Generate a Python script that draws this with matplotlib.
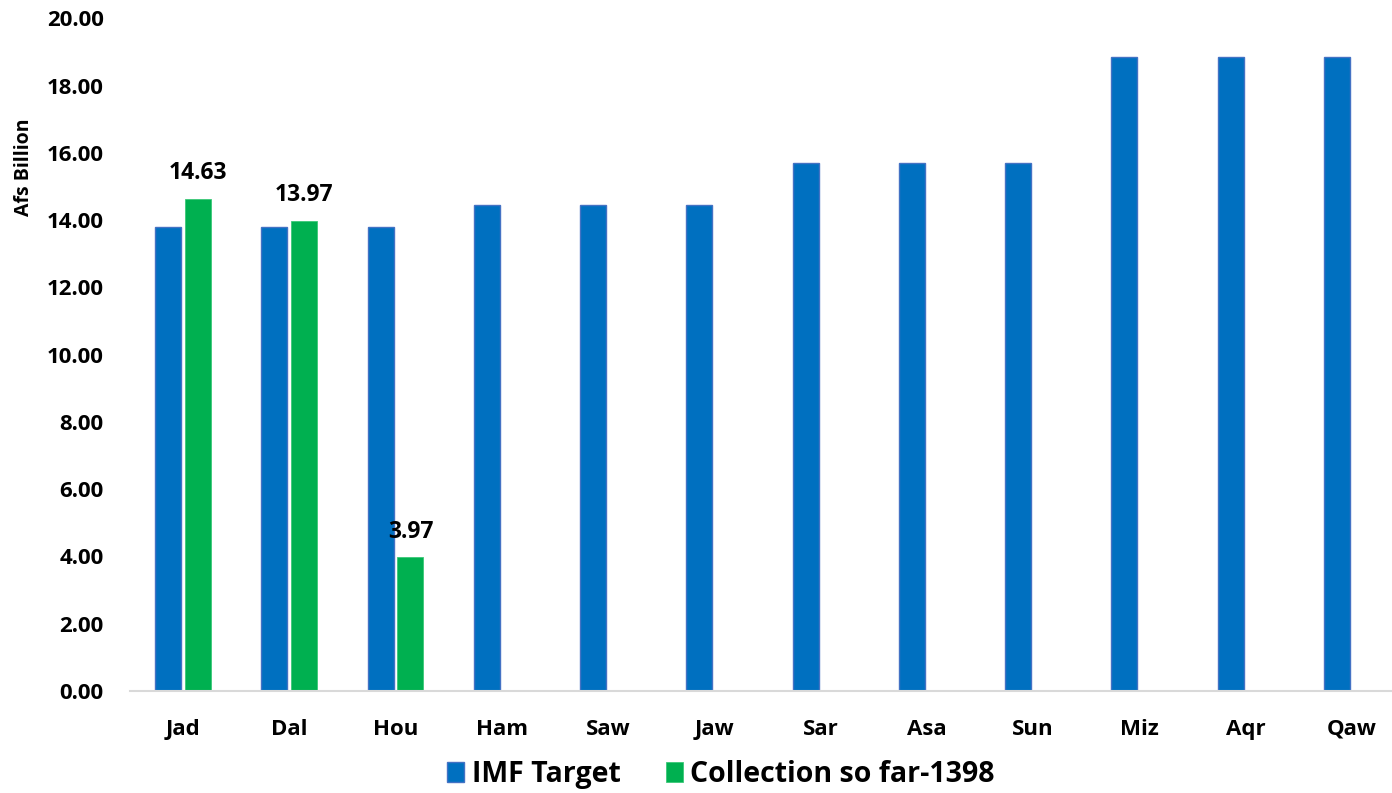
import numpy as np
import matplotlib
matplotlib.use('Agg')
import matplotlib.pyplot as plt

plt.rcParams['font.family'] = ['Open Sans', 'DejaVu Sans']
plt.rcParams['font.weight'] = 'bold'

months = ['Jad', 'Dal', 'Hou', 'Ham', 'Saw', 'Jaw', 'Sar', 'Asa', 'Sun', 'Miz', 'Aqr', 'Qaw']
imf_target = [13.79, 13.79, 13.79, 14.44, 14.44, 14.44, 15.69, 15.69, 15.69, 18.84, 18.84, 18.84]
collection = [14.63, 13.97, 3.97]

blue = '#0070C0'
green = '#00B050'
text_col = '#000000'

fig = plt.figure(figsize=(13.92, 7.93), dpi=100)
ax = fig.add_axes([0.0934, 0.1286, 0.9066, 0.8484])

x = np.arange(len(months))
w = 0.245
off = 0.14
ax.bar(x - off, imf_target, w, color=blue, edgecolor='#4472C4', linewidth=1, label='IMF Target')
xc = x[:len(collection)]
ax.bar(xc + off, collection, w, color=green, edgecolor='#3CC878', linewidth=0.6,
       label='Collection so far-1398')

# labels for the collected values
for xi, v in zip(xc, collection):
    ax.annotate(f'{v:.2f}', (xi + off, v), xytext=(0, 10), textcoords='offset points',
                ha='center', va='bottom', fontsize=16.5, fontweight='bold', color=text_col)

ax.set_ylim(0, 20)
ax.set_xlim(-0.5, 11.38)
ax.set_yticks(np.arange(0, 20.1, 2))
ax.set_yticklabels([f'{t:.2f}' for t in np.arange(0, 20.1, 2)])
ax.set_xticks(x)
ax.set_xticklabels(months)
ax.tick_params(axis='both', length=0, labelsize=16, colors=text_col)
ax.tick_params(axis='x', pad=20)
ax.tick_params(axis='y', pad=19)
for lab in ax.get_xticklabels() + ax.get_yticklabels():
    lab.set_fontweight('bold')

for s in ['top', 'right', 'left']:
    ax.spines[s].set_visible(False)
ax.spines['bottom'].set_color('#D9D9D9')
ax.spines['bottom'].set_linewidth(1.5)

fig.text(0.017, 0.789, 'Afs Billion', rotation=90, ha='center', va='center',
         fontsize=14, fontweight='bold', color=text_col)

fig.legend(loc='center', bbox_to_anchor=(0.518, 0.023), ncol=2, frameon=False,
           handlelength=0.6, handleheight=0.7, handletextpad=0.25,
           columnspacing=1.6, prop={'weight': 'bold', 'size': 20.5})

fig.savefig('out.png', dpi=100)
